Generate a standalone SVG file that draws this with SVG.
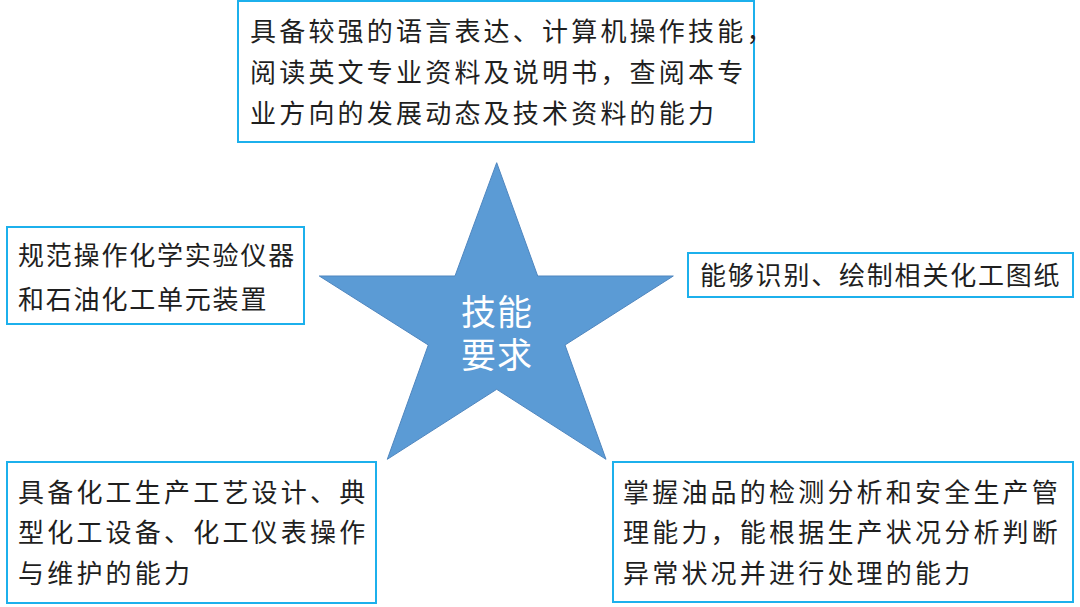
<svg xmlns="http://www.w3.org/2000/svg" width="1080" height="607" viewBox="0 0 1080 607">
<style>
.box{fill:#ffffff;stroke:#1cb0ec;stroke-width:2}
.t{font-family:"Noto Sans CJK SC","Noto Sans",sans-serif;font-size:26px;fill:#1f1f1f}
.w{letter-spacing:3.2px}
.n{letter-spacing:1.8px}
.st{font-family:"Liberation Sans","Noto Sans CJK SC",sans-serif;font-size:35px;fill:#ffffff;text-anchor:middle;letter-spacing:1px}
</style>
<rect width="1080" height="607" fill="#ffffff"/>
<g id="connectors"></g>
<g id="star">
<polygon points="496.7,162.7 537.7,276 673.3,276 565,345 606,459.3 496.7,389.3 387.3,459.3 428.3,345 319.3,276 455,276" fill="#5b9bd5" stroke="#4f86bf" stroke-width="1"/>
<text class="st" x="497" y="325">技能</text>
<text class="st" x="497" y="368">要求</text>
</g>
<g id="top">
<rect class="box" x="238" y="1" width="516" height="141"/>
<text class="t w" x="250" y="41">具备较强的语言表达、计算机操作技能，</text>
<text class="t w" x="250" y="82">阅读英文专业资料及说明书，查阅本专</text>
<text class="t w" x="250" y="123">业方向的发展动态及技术资料的能力</text>
</g>
<g id="left">
<rect class="box" x="7" y="227" width="297" height="97"/>
<text class="t n" x="18" y="265">规范操作化学实验仪器</text>
<text class="t n" x="18" y="309">和石油化工单元装置</text>
</g>
<g id="right">
<rect class="box" x="688" y="253" width="385" height="44"/>
<text class="t n" x="700" y="285">能够识别、绘制相关化工图纸</text>
</g>
<g id="bottomleft">
<rect class="box" x="7" y="462" width="369" height="141"/>
<text class="t w" x="18" y="502">具备化工生产工艺设计、典</text>
<text class="t w" x="18" y="542">型化工设备、化工仪表操作</text>
<text class="t w" x="18" y="583">与维护的能力</text>
</g>
<g id="bottomright">
<rect class="box" x="613" y="462" width="460" height="140"/>
<text class="t w" x="623" y="502">掌握油品的检测分析和安全生产管</text>
<text class="t w" x="623" y="542">理能力，能根据生产状况分析判断</text>
<text class="t w" x="623" y="583">异常状况并进行处理的能力</text>
</g>
</svg>
